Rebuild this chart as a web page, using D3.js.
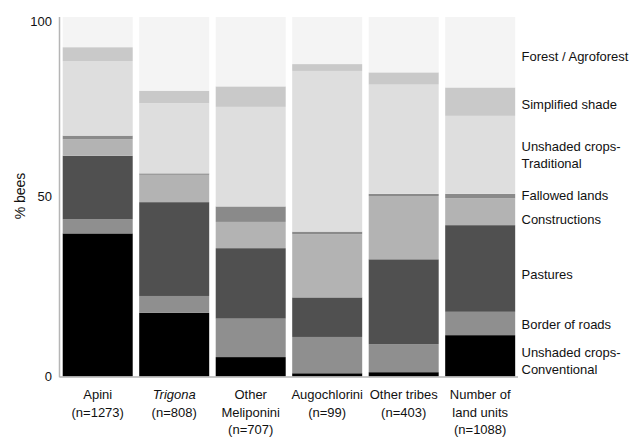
<!DOCTYPE html>
<html>
<head>
<meta charset="utf-8">
<script src="https://cdn.jsdelivr.net/npm/d3@7"></script>
<style>
  html, body { margin: 0; padding: 0; background: #fff; }
  svg text { font-family: "Liberation Sans", Arial, sans-serif; fill: #111; }
</style>
</head>
<body>
<svg id="chart" width="629" height="438"></svg>
<script>
// Bee groups (first line of the label, second line, optional third line)
const groups = ["Apini", "Trigona", "Other Meliponini", "Augochlorini", "Other tribes", "Number of land units"];
const groupLines = [
  ["Apini", "(n=1273)"],
  ["Trigona", "(n=808)"],
  ["Other", "Meliponini", "(n=707)"],
  ["Augochlorini", "(n=99)"],
  ["Other tribes", "(n=403)"],
  ["Number of", "land units", "(n=1088)"]
];

// Land-use classes, stacked bottom to top
const landUses = [
  "Unshaded crops-Conventional",
  "Border of roads",
  "Pastures",
  "Constructions",
  "Fallowed lands",
  "Unshaded crops-Traditional",
  "Simplified shade",
  "Forest / Agroforest"
];

// % of bees (or land units) per land-use class, one array per class, in group order
const conventional = [39.8, 17.7, 5.4, 0.9, 1.2, 11.5];
const borderRoads  = [ 3.9,  4.7, 10.7, 10.1, 7.8, 6.5];
const pastures     = [17.7, 26.1, 19.6, 11.0, 23.6, 24.1];
const constructions= [ 4.6,  7.6,  7.3, 17.6, 17.6, 7.5];
const fallowed     = [ 1.0,  0.4,  4.3,  0.7,  0.6, 1.2];
const traditional  = [20.7, 19.5, 27.7, 44.7, 30.4, 21.7];
const simplified   = [ 3.9,  3.5,  5.7,  1.9,  3.4, 7.9];
const forest       = [ 8.4, 20.5, 19.3, 13.1, 15.4, 19.6];

const yTicks = [0, 50, 100];

const seriesValues = [conventional, borderRoads, pastures, constructions, fallowed, traditional, simplified, forest];

const rows = groups.map((g, i) => {
  const r = { group: g };
  landUses.forEach((k, j) => { r[k] = seriesValues[j][i]; });
  return r;
});

const fills = {
  "Unshaded crops-Conventional": "#000000",
  "Border of roads": "#8f8f8f",
  "Pastures": "#505050",
  "Constructions": "#b3b3b3",
  "Fallowed lands": "#8a8a8a",
  "Unshaded crops-Traditional": "#dedede",
  "Simplified shade": "#c9c9c9",
  "Forest / Agroforest": "#f4f4f4"
};

const svg = d3.select("#chart");

const x = d3.scaleBand()
  .domain(groups)
  .range([59.5, 518.4])
  .paddingInner(0.085)
  .paddingOuter(0.042);

const y = d3.scaleLinear()
  .domain([0, 100])
  .range([376.5, 17]);

const stacked = d3.stack().keys(landUses)(rows);

// Stacked bars
svg.append("g")
  .selectAll("g")
  .data(stacked)
  .join("g")
  .attr("fill", d => fills[d.key])
  .selectAll("rect")
  .data(d => d)
  .join("rect")
  .attr("x", d => x(d.data.group))
  .attr("width", x.bandwidth())
  .attr("y", d => y(d[1]))
  .attr("height", d => Math.max(0, y(d[0]) - y(d[1])));

// Axes lines
const axisColor = "#b5b5b5";
svg.append("line")
  .attr("x1", 59.5).attr("x2", 59.5)
  .attr("y1", y(100)).attr("y2", y(0) + 0.8)
  .attr("stroke", axisColor).attr("stroke-width", 1.5);
svg.append("line")
  .attr("x1", 59.5).attr("x2", 518)
  .attr("y1", y(0) + 0.5).attr("y2", y(0) + 0.5)
  .attr("stroke", axisColor).attr("stroke-width", 1.5);

// Y tick labels
svg.append("g")
  .selectAll("text")
  .data(yTicks)
  .join("text")
  .attr("x", 52)
  .attr("y", d => y(d) + (d === 100 ? 4.5 : 0))
  .attr("dy", "0.35em")
  .attr("text-anchor", "end")
  .attr("font-size", 13)
  .text(d => d);

// Y axis title
svg.append("text")
  .attr("transform", `translate(25,196) rotate(-90)`)
  .attr("text-anchor", "middle")
  .attr("font-size", 14)
  .text("% bees");

// Group labels under bars
const xl = svg.append("g")
  .selectAll("text")
  .data(groups)
  .join("text")
  .attr("text-anchor", "middle")
  .attr("font-size", 13)
  .attr("font-style", (d, i) => i === 1 ? "italic" : null);
xl.each(function(d, i) {
  const t = d3.select(this);
  groupLines[i].forEach((line, k) => {
    t.append("tspan")
      .attr("x", x(d) + x.bandwidth() / 2)
      .attr("y", 399 + k * 17.7)
      .attr("font-style", k > 0 ? "normal" : null)
      .text(line);
  });
});

// Land-use labels, placed beside the last bar's segments
const lastStack = stacked.map(s => ({ key: s.key, lo: s[s.length - 1][0], hi: s[s.length - 1][1] }));
const labelLines = {
  "Unshaded crops-Conventional": ["Unshaded crops-", "Conventional"],
  "Unshaded crops-Traditional": ["Unshaded crops-", "Traditional"]
};
const labelShift = {
  "Forest / Agroforest": 4,
  "Simplified shade": 3,
  "Unshaded crops-Traditional": 0,
  "Fallowed lands": -1,
  "Constructions": 7.5,
  "Pastures": 5.5,
  "Border of roads": 1,
  "Unshaded crops-Conventional": 5
};
const lineGap = 17.6;
svg.append("g")
  .selectAll("text")
  .data(lastStack)
  .join("text")
  .attr("font-size", 13)
  .each(function(d) {
    const lines = labelLines[d.key] || [d.key];
    const cy = (y(d.lo) + y(d.hi)) / 2 + labelShift[d.key];
    const top = cy - (lines.length - 1) * lineGap / 2;
    const t = d3.select(this);
    lines.forEach((line, k) => {
      t.append("tspan")
        .attr("x", 521.5)
        .attr("y", top + k * lineGap)
        .attr("dy", "0.35em")
        .text(line);
    });
  });
</script>
</body>
</html>
